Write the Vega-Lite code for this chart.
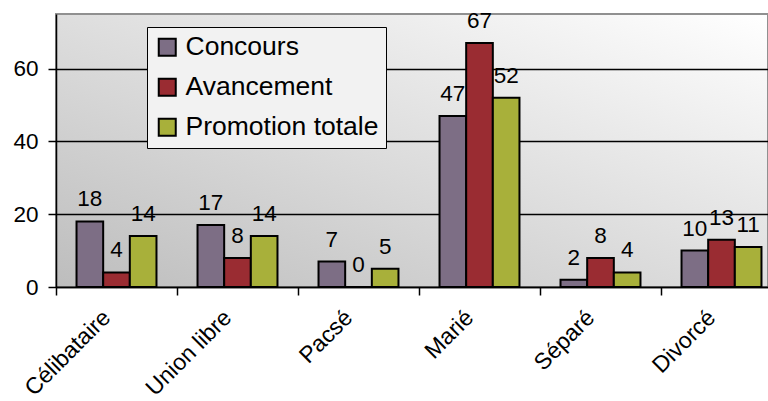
{
  "$schema": "https://vega.github.io/schema/vega-lite/v6.json",
  "width": 712,
  "height": 273,
  "autosize": {"type": "none"},
  "padding": {"left": 56, "top": 14, "right": 0, "bottom": 114},
  "background": "white",
  "config": {
    "font": "Liberation Sans",
    "view": {
      "fill": {"gradient": "linear", "x1": 0, "y1": 1, "x2": 1, "y2": 0, "stops": [{"offset": 0, "color": "#bdbdbd"}, {"offset": 1, "color": "#ffffff"}]},
      "stroke": "#909090",
      "strokeWidth": 2
    }
  },
  "data": {
    "values": [
      {"cat": "Célibataire", "series": "Concours", "value": 18},
      {"cat": "Célibataire", "series": "Avancement", "value": 4},
      {"cat": "Célibataire", "series": "Promotion totale", "value": 14},
      {"cat": "Union libre", "series": "Concours", "value": 17},
      {"cat": "Union libre", "series": "Avancement", "value": 8},
      {"cat": "Union libre", "series": "Promotion totale", "value": 14},
      {"cat": "Pacsé", "series": "Concours", "value": 7},
      {"cat": "Pacsé", "series": "Avancement", "value": 0},
      {"cat": "Pacsé", "series": "Promotion totale", "value": 5},
      {"cat": "Marié", "series": "Concours", "value": 47},
      {"cat": "Marié", "series": "Avancement", "value": 67},
      {"cat": "Marié", "series": "Promotion totale", "value": 52},
      {"cat": "Séparé", "series": "Concours", "value": 2},
      {"cat": "Séparé", "series": "Avancement", "value": 8},
      {"cat": "Séparé", "series": "Promotion totale", "value": 4},
      {"cat": "Divorcé", "series": "Concours", "value": 10},
      {"cat": "Divorcé", "series": "Avancement", "value": 13},
      {"cat": "Divorcé", "series": "Promotion totale", "value": 11}
    ]
  },
  "encoding": {
    "x": {
      "field": "cat", "type": "nominal", "sort": null, "title": null,
      "scale": {"range": [0, 726], "paddingInner": 0, "paddingOuter": 0},
      "axis": {
        "labelAngle": -45, "labelFontSize": 23, "labelColor": "black",
        "domainColor": "black", "domainWidth": 1.5,
        "tickColor": "black", "tickWidth": 1.5, "tickSize": 8, "tickBand": "extent",
        "labelPadding": 11, "labelOffset": -18, "grid": false
      }
    },
    "xOffset": {
      "field": "series", "type": "nominal", "sort": ["Concours", "Avancement", "Promotion totale"],
      "scale": {"paddingOuter": 0.77, "paddingInner": 0}
    },
    "y": {
      "field": "value", "type": "quantitative", "title": null,
      "scale": {"domain": [0, 75], "nice": false},
      "axis": {
        "values": [0, 20, 40, 60], "labelFontSize": 22.5, "labelColor": "black",
        "grid": true, "gridColor": "black", "gridWidth": 1.5,
        "domainColor": "black", "domainWidth": 1.5,
        "tickColor": "black", "tickWidth": 1.5, "tickSize": 8, "labelPadding": 10
      }
    }
  },
  "layer": [
    {
      "mark": {"type": "bar", "stroke": "black", "strokeWidth": 2},
      "encoding": {
        "color": {
          "field": "series", "type": "nominal", "sort": ["Concours", "Avancement", "Promotion totale"],
          "scale": {"domain": ["Concours", "Avancement", "Promotion totale"], "range": ["#7d6e85", "#9a2c32", "#a8b03a"]},
          "legend": {
            "title": null, "orient": "none", "legendX": 91, "legendY": 13,
            "fillColor": "#f2f2f2", "strokeColor": "black", "padding": 7,
            "symbolType": "square", "symbolSize": 289, "symbolStrokeColor": "black", "symbolStrokeWidth": 2,
            "symbolOpacity": 1,
            "labelFontSize": 26.5, "labelColor": "black", "labelLimit": 400, "labelOffset": 5,
            "rowPadding": 13
          }
        }
      }
    },
    {
      "mark": {"type": "text", "fontSize": 22.5, "color": "black", "baseline": "alphabetic", "dy": -15},
      "encoding": {"text": {"field": "value", "type": "quantitative"}}
    }
  ]
}
